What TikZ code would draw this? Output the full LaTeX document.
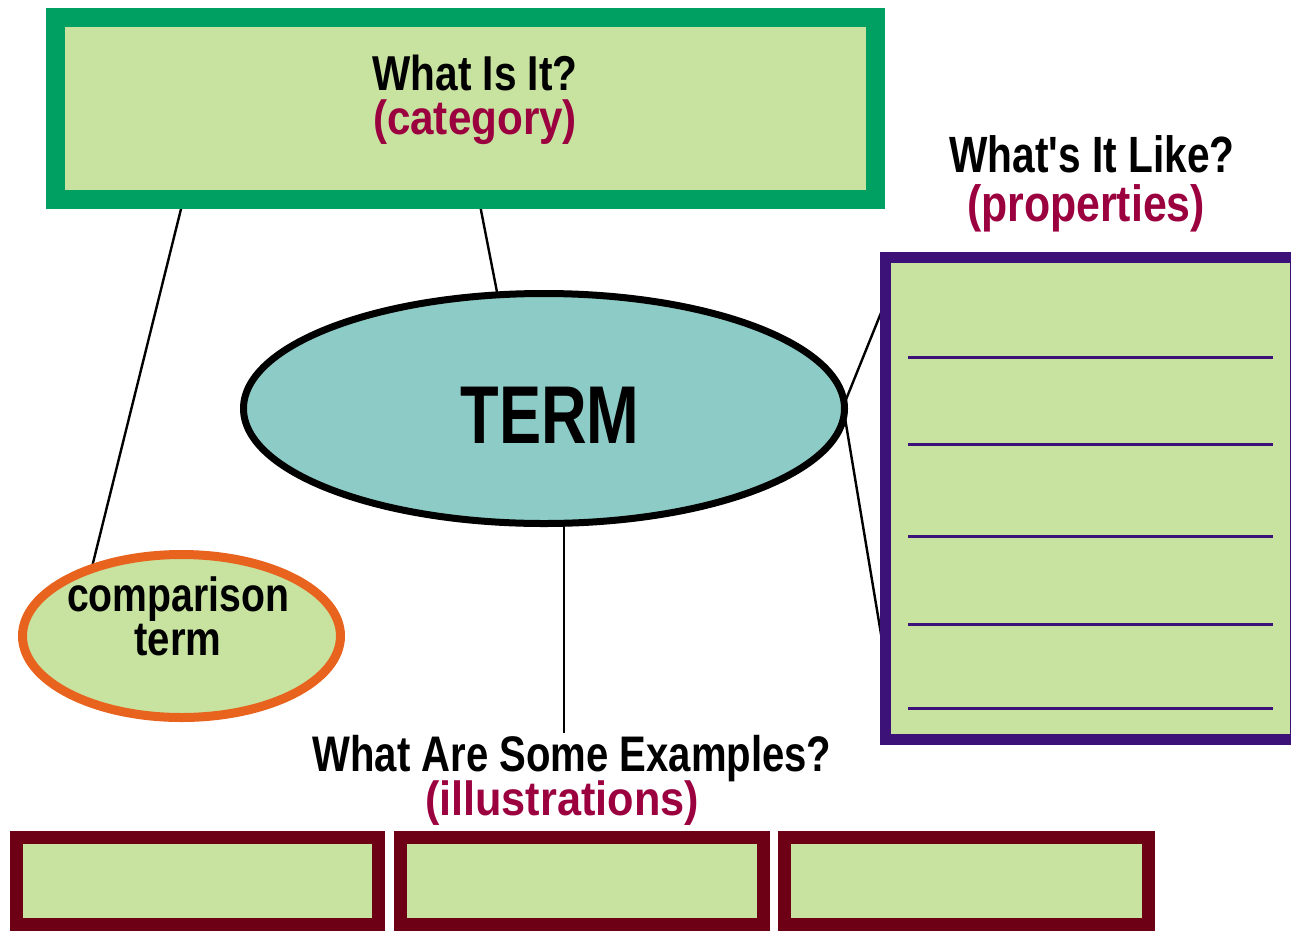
\documentclass[tikz,border=0pt]{standalone}
\usepackage{fontspec}
\setmainfont{Liberation Sans}
\usetikzlibrary{shapes.geometric,backgrounds}
\definecolor{gborder}{HTML}{00A062}
\definecolor{lightg}{HTML}{C8E2A0}
\definecolor{teal}{HTML}{8DCBC7}
\definecolor{purp}{HTML}{3D1278}
\definecolor{orng}{HTML}{E8631D}
\definecolor{maroon}{HTML}{6E0016}
\definecolor{crim}{HTML}{9B003F}
\newcommand{\fitw}[2]{\resizebox{#1pt}{\height}{#2}}
\tikzset{
  box/.style={draw, fill=lightg, inner sep=0pt, anchor=center},
  lbl/.style={inner sep=0pt, anchor=base, font=\fontsize{46}{46}\selectfont\bfseries},
  conn/.style={draw=black, line width=2.4pt},
  pline/.style={draw=purp, line width=3pt},
}
\begin{document}
\begin{tikzpicture}[x=1pt,y=-1pt]
\useasboundingbox (0,0) rectangle (1291,930);
\clip (0,0) rectangle (1291,930);

% category box
\node[box, draw=gborder, line width=19pt, minimum width=819.5pt, minimum height=182pt] (cat) at (465.25,108) {};
\node[lbl, font=\fontsize{49}{49}\selectfont\bfseries] (catq) at (475,90) {\fitw{205}{What Is It?}};
\node[lbl, text=crim, font=\fontsize{48}{48}\selectfont\bfseries] (catc) at (475,134) {\fitw{204}{(category)}};

% properties
\node[lbl, font=\fontsize{51}{51}\selectfont\bfseries] (propq) at (1092,172) {\fitw{285}{What\textquotesingle s It Like?}};
\node[lbl, text=crim, font=\fontsize{51}{51}\selectfont\bfseries] (propc) at (1086,221) {\fitw{238}{(properties)}};
\node[box, draw=purp, line width=11pt, minimum width=409.5pt, minimum height=482pt] (prop) at (1090.25,498.5) {};
\foreach \yy in {357,444,536,624,708}{
  \draw[pline] (908,\yy) -- (1273,\yy);
}

% term
\node[draw=black, fill=teal, ellipse, line width=7pt, minimum width=601pt, minimum height=230pt, inner sep=0pt] (term) at (544,408.5) {};
\node[lbl, font=\fontsize{82}{82}\selectfont\bfseries] (termt) at (550,443) {\fitw{179}{TERM}};

% comparison
\node[draw=orng, fill=lightg, ellipse, line width=9pt, minimum width=318pt, minimum height=163pt, inner sep=0pt] (cmp) at (181.5,636) {};
\node[lbl, font=\fontsize{48}{48}\selectfont\bfseries] (cmpa) at (178,611) {\fitw{222}{comparison}};
\node[lbl, font=\fontsize{48}{48}\selectfont\bfseries] (cmpb) at (178,655) {\fitw{87}{term}};

% examples
\node[lbl, font=\fontsize{50}{50}\selectfont\bfseries] (exq) at (572,771) {\fitw{519}{What Are Some Examples?}};
\node[lbl, text=crim, font=\fontsize{48}{48}\selectfont\bfseries] (exc) at (562,815) {\fitw{274}{(illustrations)}};
\node[box, draw=maroon, line width=13pt, minimum width=362pt, minimum height=87pt] (ex1) at (197.5,880.5) {};
\node[box, draw=maroon, line width=13pt, minimum width=363pt, minimum height=87pt] (ex2) at (582,880.5) {};
\node[box, draw=maroon, line width=13pt, minimum width=364pt, minimum height=87pt] (ex3) at (966.5,880.5) {};

% connector end points
\coordinate (catA) at (182,205);
\coordinate (catB) at (480,205);
\coordinate (cmpTop) at (92,567);
\coordinate (termTop) at (497,292);
\coordinate (termR1) at (845,402);
\coordinate (termR2) at (845,418);
\coordinate (termBot) at (564,525);
\coordinate (propA) at (887,298);
\coordinate (propB) at (886,664);
\coordinate (exTop) at (564,733);

\begin{pgfonlayer}{background}
\draw[conn] (catA) -- (cmpTop);
\draw[conn] (catB) -- (termTop);
\draw[conn] (termR1) -- (propA);
\draw[conn] (termR2) -- (propB);
\draw[conn] (termBot) -- (exTop);
\end{pgfonlayer}
\end{tikzpicture}
\end{document}
